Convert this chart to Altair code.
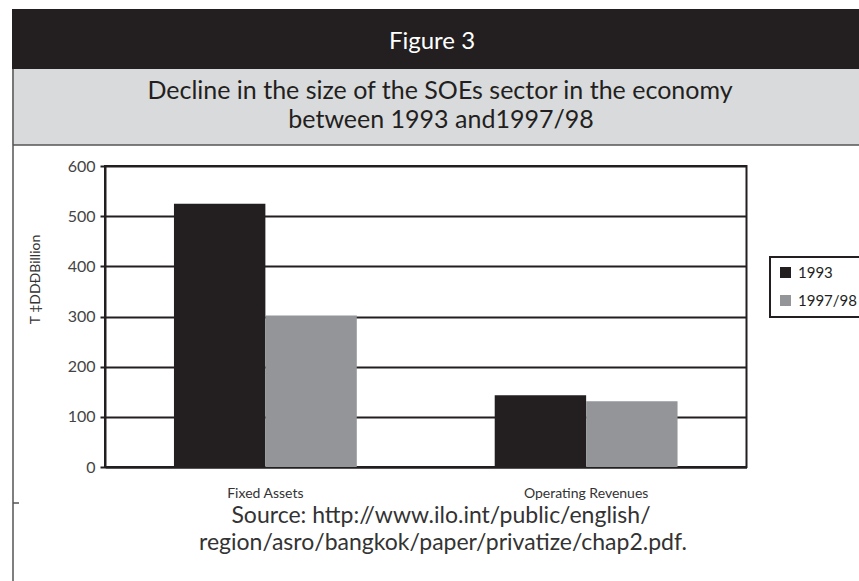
import altair as alt
import pandas as pd

# ---- data ----
categories = ["Fixed Assets", "Fixed Assets", "Operating Revenues", "Operating Revenues"]
series = ["1993", "1997/98", "1993", "1997/98"]
values = [525, 302, 143, 131]
y_ticks = [0, 100, 200, 300, 400, 500, 600]
series_order = ["1993", "1997/98"]
series_colors = ["#231f20", "#939598"]

fig_label = "Figure 3"
subtitle_lines = ["Decline in the size of the SOEs sector in the economy",
                  "between 1993 and1997/98"]
y_title = "T \u2021DD\u00d0Billion"
source_lines = ["Source: http://www.ilo.int/public/english/",
                "region/asro/bangkok/paper/privatize/chap2.pdf."]

FONT = "Lato"
W, H = 641.5, 301

df = pd.DataFrame({"category": categories, "series": series, "value": values})
one = pd.DataFrame({"k": [0]})

bars = alt.Chart(df).mark_bar().encode(
    x=alt.X("category:N", sort=None,
            scale=alt.Scale(paddingInner=0.43, paddingOuter=0.215),
            axis=alt.Axis(title=None, labelAngle=0, ticks=False, domain=True,
                          domainColor="#231f20", domainWidth=2,
                          labelFont=FONT, labelFontSize=14, labelColor="#333333",
                          labelPadding=19, grid=False)),
    xOffset=alt.XOffset("series:N", sort=series_order),
    y=alt.Y("value:Q", scale=alt.Scale(domain=[0, 600], nice=False),
            axis=alt.Axis(values=y_ticks, title=y_title, grid=True,
                          gridColor="#231f20", gridWidth=2,
                          domainColor="#231f20", domainWidth=2,
                          tickColor="#231f20", tickWidth=2, tickSize=5,
                          labelPadding=5, labelFont=FONT, labelFontSize=16,
                          labelColor="#444444",
                          titleFont=FONT, titleFontSize=14, titleFontWeight="normal",
                          titleColor="#333333", titleAngle=270,
                          titleX=-70, titleY=113, titleAlign="center",
                          titleBaseline="middle")),
    color=alt.Color("series:N", sort=series_order,
                    scale=alt.Scale(domain=series_order, range=series_colors),
                    legend=alt.Legend(title=None, orient="none", legendX=665, legendY=91,
                                      symbolType="square", symbolSize=121,
                                      symbolStrokeWidth=0, labelFont=FONT,
                                      labelFontSize=15, labelColor="#231f20",
                                      labelOffset=5, rowPadding=12, padding=8,
                                      strokeColor="#231f20")),
)

black_band = alt.Chart(one).mark_rect(color="#231f20").encode(
    x=alt.value(-93), x2=alt.value(770), y=alt.value(-157), y2=alt.value(-97))
gray_band = alt.Chart(one).mark_rect(color="#d9dadc").encode(
    x=alt.value(-93), x2=alt.value(770), y=alt.value(-97), y2=alt.value(-21))
gray_bottom = alt.Chart(one).mark_rule(color="#555555", strokeWidth=1.5).encode(
    x=alt.value(-92), x2=alt.value(770), y=alt.value(-21))
left_line = alt.Chart(one).mark_rule(color="#555555", strokeWidth=1.5).encode(
    x=alt.value(-92), y=alt.value(-97), y2=alt.value(420))
left_tick = alt.Chart(one).mark_rule(color="#555555", strokeWidth=1.5).encode(
    x=alt.value(-92), x2=alt.value(-86), y=alt.value(337))


def text_layer(s, x, y, size, color):
    return alt.Chart(pd.DataFrame({"t": [s]})).mark_text(
        font=FONT, fontSize=size, color=color, align="center", baseline="alphabetic"
    ).encode(text="t:N", x=alt.value(x), y=alt.value(y))


texts = [
    text_layer(fig_label, 327, -117, 24, "white"),
    text_layer(subtitle_lines[0], 335, -67, 25, "#231f20"),
    text_layer(subtitle_lines[1], 336, -38, 25, "#231f20"),
    text_layer(source_lines[0], 336, 357, 23, "#333333"),
    text_layer(source_lines[1], 338, 384, 23, "#333333"),
]

chart = alt.layer(
    black_band, gray_band, gray_bottom, left_line, left_tick,
    bars, *texts
).properties(
    width=W, height=H,
    padding={"left": 105, "top": 166, "right": 112.5, "bottom": 114},
    autosize=alt.AutoSizeParams(type="none"),
    background="white",
).configure_view(stroke="#231f20", strokeWidth=2).configure_legend(strokeWidth=2)

chart.save("out.html", embed_options={"renderer": "svg", "actions": False})
